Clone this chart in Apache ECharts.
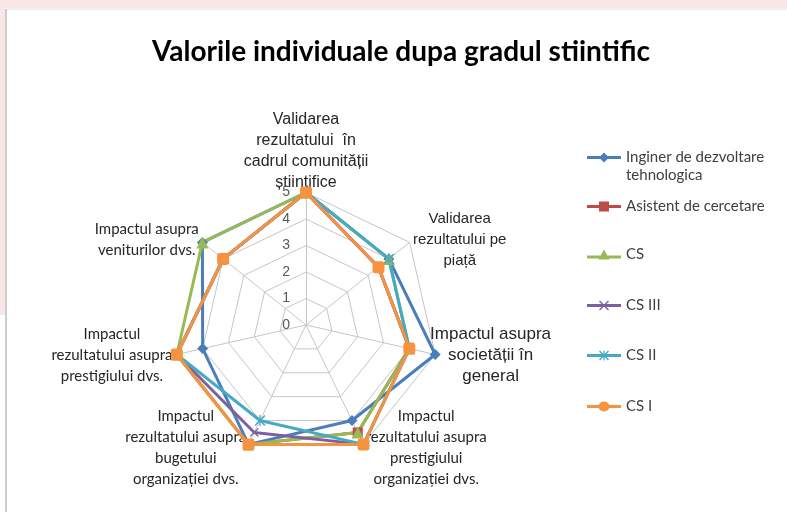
<!DOCTYPE html>
<html>
<head>
<meta charset="utf-8">
<script src="https://cdn.jsdelivr.net/npm/echarts@6/dist/echarts.min.js"></script>
<style>
html, body { margin: 0; padding: 0; background: #fff; }
#main { width: 787px; height: 512px; }
</style>
</head>
<body>
<div id="main"></div>
<script>
// categories in clockwise order starting from the top
var categories = [
    'Validarea\nrezultatului  în\ncadrul comunității\nștiințifice',
    'Validarea\nrezultatului pe\npiață',
    'Impactul asupra\nsocietății în\ngeneral',
    'Impactul\nrezultatului asupra\nprestigiului\norganizației dvs.',
    'Impactul\nrezultatului asupra\nbugetului\norganizației dvs.',
    'Impactul\nrezultatului asupra\nprestigiului dvs.',
    'Impactul asupra\nveniturilor dvs.'
];
var valueTicks = [0, 1, 2, 3, 4, 5];
var seriesNames = ['Inginer de dezvoltare tehnologica', 'Asistent de cercetare', 'CS', 'CS III', 'CS II', 'CS I'];

var inginer  = [5, 4,   5, 4,   5,   4, 5];
var asistent = [5, 3.5, 4, 4.5, 5,   5, 4];
var cs       = [5, 4,   4, 4.5, 5,   5, 5];
var cs3      = [5, 3.5, 4, 5,   4.5, 5, 4];
var cs2      = [5, 4,   4, 5,   4,   5, 4];
var cs1      = [5, 3.5, 4, 5,   5,   5, 4];

var seriesValues = [inginer, asistent, cs, cs3, cs2, cs1];
var colors = ['#4A7EBB', '#BE4B48', '#98B954', '#7D60A0', '#46AAC5', '#F69240'];

var crossPath = 'path://M0,1L1,0L5,4L9,0L10,1L6,5L10,9L9,10L5,6L1,10L0,9L4,5Z';
var starPath = 'path://M0,1L1,0L5,4L9,0L10,1L6,5L10,9L9,10L5,6L1,10L0,9L4,5Z M4.4,0L5.6,0L5.6,10L4.4,10Z';
var symbols = ['diamond', 'rect', 'triangle', crossPath, starPath, 'roundRect'];
var symbolSizes = [11, 10, 12, 9, 11, 12];

// legend icons: line with the marker in the middle (34 x 10 box)
var bar = 'M0,3.5L34,3.5L34,6.5L0,6.5Z ';
var legendIcons = [
    'path://M0,3.5L13.5,3.5L17,0L20.5,3.5L34,3.5L34,6.5L20.5,6.5L17,10L13.5,6.5L0,6.5Z',
    'path://M0,3.5L12,3.5L12,0L22,0L22,3.5L34,3.5L34,6.5L22,6.5L22,10L12,10L12,6.5L0,6.5Z',
    'path://M0,6L13.7,6L17,0L20.3,6L34,6L34,9L21.95,9L22.5,10L11.5,10L12.05,9L0,9Z',
    'path://' + bar + 'M12,1L13,0L17,4L21,0L22,1L18,5L22,9L21,10L17,6L13,10L12,9L16,5Z',
    'path://' + bar + 'M12,1L13,0L17,4L21,0L22,1L18,5L22,9L21,10L17,6L13,10L12,9L16,5Z M16.4,0L17.6,0L17.6,10L16.4,10Z',
    'path://' + bar + 'M11.5,5A5.5,5 0 1 1 22.5,5A5.5,5 0 1 1 11.5,5Z'
];

// echarts radar lays indicators counter-clockwise, so reorder
var order = [0, 6, 5, 4, 3, 2, 1];

var arialFont = 'Liberation Sans, Arial, sans-serif';
var calFont = 'Lato, Noto Sans, sans-serif';
var nameFonts = [arialFont, arialFont, arialFont, calFont, calFont, calFont, calFont];
var nameSizes = [16, 15, 17, 15, 15, 15, 15];
var nameShrink = [0, 0, 18, 0, 0, 0, 0]; // narrower box pulls the label toward its vertex

var measureCtx = document.createElement('canvas').getContext('2d');
var rich = {};
categories.forEach(function (c, k) {
    measureCtx.font = nameSizes[k] + 'px ' + nameFonts[k];
    var w = 0;
    c.split('\n').forEach(function (l) { w = Math.max(w, measureCtx.measureText(l).width); });
    rich['n' + k] = {
        fontFamily: nameFonts[k],
        fontSize: nameSizes[k],
        lineHeight: 21,
        width: Math.ceil(w) - nameShrink[k],
        align: 'center',
        color: '#262626'
    };
});
// top label sits right on its vertex: last line box is shorter so the block drops a bit
rich.n0last = echarts.util.extend(echarts.util.extend({}, rich.n0), {
    lineHeight: 16, height: 21, verticalAlign: 'top'
});

var chart = echarts.init(document.getElementById('main'));

var legendFont = { fontFamily: calFont, fontSize: 15, color: '#404040' };

var option = {
    backgroundColor: '#fff',
    animation: false,
    title: {
        text: 'Valorile individuale dupa gradul stiintific',
        left: 396,
        textAlign: 'center',
        top: 33,
        textStyle: {
            fontFamily: 'Lato, sans-serif',
            fontWeight: 'bold',
            fontSize: 28,
            color: '#000'
        }
    },
    graphic: [
        { type: 'rect', silent: true, shape: { x: 0, y: 0, width: 787, height: 8 }, style: { fill: '#f9e7e8' } },
        { type: 'rect', silent: true, shape: { x: 0, y: 0, width: 5, height: 315 }, style: { fill: '#f9e7e8' } },
        { type: 'line', silent: true, shape: { x1: 6, y1: 9, x2: 787, y2: 9 }, style: { stroke: '#dedede', lineWidth: 1 } },
        { type: 'line', silent: true, shape: { x1: 6, y1: 9, x2: 6, y2: 512 }, style: { stroke: '#bcbcbc', lineWidth: 1.5 } },
        // wrapped second line of the first legend entry
        {
            type: 'text', silent: true, x: 626, y: 175,
            style: {
                text: 'tehnologica', fill: legendFont.color,
                font: legendFont.fontSize + 'px ' + legendFont.fontFamily,
                verticalAlign: 'middle'
            }
        }
    ],
    legend: seriesNames.map(function (n, i) {
        var tops = [150, 199, 247, 298, 348, 399];
        return {
            data: [{ name: n, icon: legendIcons[i] }],
            orient: 'vertical',
            left: 587,
            top: tops[i],
            itemWidth: 34,
            itemHeight: 10,
            itemGap: 0,
            padding: 0,
            selectedMode: false,
            itemStyle: { borderWidth: 0 },
            formatter: i === 0 ? function () { return 'Inginer de dezvoltare'; } : '{name}',
            textStyle: legendFont
        };
    }),
    grid: {
        left: 306,
        top: 192.5,
        width: 1,
        height: 132.5
    },
    xAxis: { type: 'value', show: false },
    yAxis: {
        type: 'value',
        min: valueTicks[0],
        max: valueTicks[valueTicks.length - 1],
        interval: 1,
        axisLine: { show: false },
        axisTick: { show: false },
        splitLine: { show: false },
        axisLabel: {
            margin: 16,
            color: '#595959',
            fontFamily: 'Liberation Sans, Arial, sans-serif',
            fontSize: 14
        }
    },
    radar: {
        center: [306, 325],
        radius: 132.5,
        startAngle: 90,
        splitNumber: 5,
        shape: 'polygon',
        nameGap: 4,
        indicator: order.map(function (k) {
            return { name: categories[k], min: 0, max: 5 };
        }),
        axisName: {
            formatter: function (name) {
                var k = categories.indexOf(name);
                var lines = name.split('\n');
                return lines.map(function (l, j) {
                    var key = (k === 0 && j === lines.length - 1) ? 'n0last' : 'n' + k;
                    return '{' + key + '|' + l + '}';
                }).join('\n');
            },
            rich: rich
        },
        splitLine: { lineStyle: { color: '#c6c6c6', width: 1 } },
        splitArea: { show: false },
        axisLine: { lineStyle: { color: '#c6c6c6', width: 1 } },
        axisTick: { show: false },
        axisLabel: { show: false }
    },
    series: seriesNames.map(function (n, i) {
        return {
            name: n,
            type: 'radar',
            symbol: symbols[i],
            symbolSize: symbolSizes[i],
            lineStyle: { width: 3, color: colors[i] },
            itemStyle: { color: colors[i] },
            data: [{ value: order.map(function (k) { return seriesValues[i][k]; }) }]
        };
    })
};

chart.setOption(option);
</script>
</body>
</html>
